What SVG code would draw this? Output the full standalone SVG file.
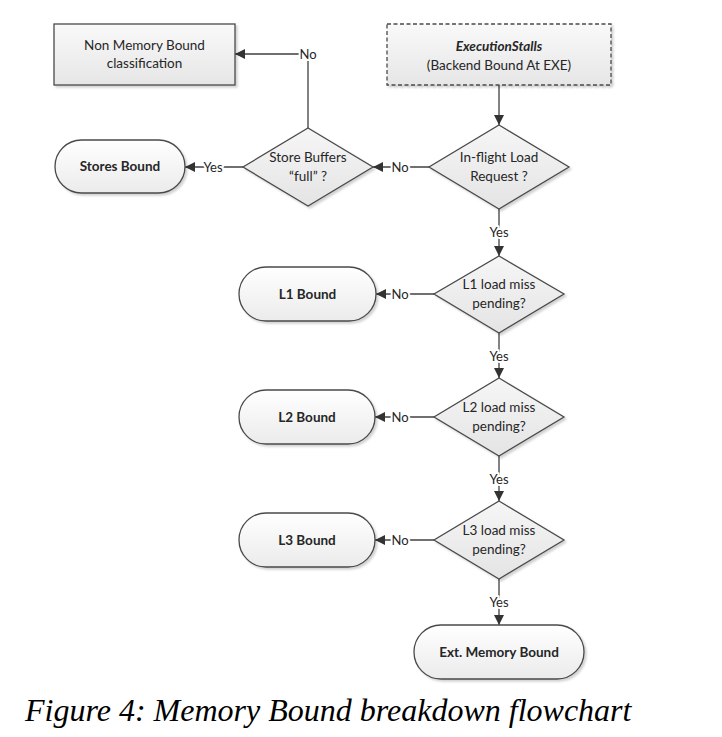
<svg xmlns="http://www.w3.org/2000/svg" width="722" height="737" viewBox="0 0 722 737">
  <style>
    .t { font-family: Lato, "Liberation Sans", sans-serif; font-size: 13.5px; fill: #262626; text-anchor: middle; }
    .b { font-weight: bold; }
    .bi { font-weight: bold; font-style: italic; }
    .lbl { font-family: Lato, "Liberation Sans", sans-serif; font-size: 13px; fill: #262626; text-anchor: middle; stroke: #ffffff; stroke-width: 4px; paint-order: stroke; stroke-linejoin: round; }
    .shape { stroke: #4a4a4a; stroke-width: 1.3; }
    .conn { fill: none; stroke: #404040; stroke-width: 1.3; }
    .cap { font-family: "Liberation Serif", "Times New Roman", serif; font-style: italic; font-size: 32px; fill: #000; }
  </style>
  <defs>
    <linearGradient id="gBox" x1="0" y1="0" x2="0" y2="1">
      <stop offset="0" stop-color="#f9f9f9"/>
      <stop offset="1" stop-color="#e6e6e6"/>
    </linearGradient>
    <linearGradient id="gPill" x1="0" y1="0" x2="0" y2="1">
      <stop offset="0" stop-color="#ffffff"/>
      <stop offset="1" stop-color="#ebebeb"/>
    </linearGradient>
    <linearGradient id="gDia" x1="0" y1="0" x2="0" y2="1">
      <stop offset="0" stop-color="#f6f6f6"/>
      <stop offset="1" stop-color="#e4e4e4"/>
    </linearGradient>
    <filter id="sh" x="-10%" y="-10%" width="130%" height="140%">
      <feDropShadow dx="2" dy="2" stdDeviation="1.2" flood-color="#000" flood-opacity="0.18"/>
    </filter>
    <marker id="arr" viewBox="0 0 10 10" refX="10" refY="5" markerWidth="10" markerHeight="10" markerUnits="userSpaceOnUse" orient="auto">
      <path d="M0,0 L10,5 L0,10 Z" fill="#333333"/>
    </marker>
  </defs>

  <rect width="722" height="737" fill="#ffffff"/>

  <g id="connectors">
    <!-- ExecutionStalls -> In-flight -->
    <path class="conn" d="M499,85 V125" marker-end="url(#arr)"/>
    <!-- In-flight -> Store Buffers (No) -->
    <path class="conn" d="M429,167 H373" marker-end="url(#arr)"/>
    <!-- Store Buffers -> Non Memory (No) -->
    <path class="conn" d="M308,128 V54 H235" marker-end="url(#arr)"/>
    <!-- Store Buffers -> Stores Bound (Yes) -->
    <path class="conn" d="M243,167 H185" marker-end="url(#arr)"/>
    <!-- In-flight -> L1 (Yes) -->
    <path class="conn" d="M499,209 V256" marker-end="url(#arr)"/>
    <!-- L1 -> L1 Bound (No) -->
    <path class="conn" d="M434,294 H376" marker-end="url(#arr)"/>
    <!-- L1 -> L2 (Yes) -->
    <path class="conn" d="M499,333 V378" marker-end="url(#arr)"/>
    <!-- L2 -> L2 Bound (No) -->
    <path class="conn" d="M434,417 H375" marker-end="url(#arr)"/>
    <!-- L2 -> L3 (Yes) -->
    <path class="conn" d="M499,456 V501" marker-end="url(#arr)"/>
    <!-- L3 -> L3 Bound (No) -->
    <path class="conn" d="M434,540 H375" marker-end="url(#arr)"/>
    <!-- L3 -> Ext (Yes) -->
    <path class="conn" d="M499,579 V625" marker-end="url(#arr)"/>

    <text class="lbl" x="308" y="58.5">No</text>
    <text class="lbl" x="400" y="171.5">No</text>
    <text class="lbl" x="213" y="171.5">Yes</text>
    <text class="lbl" x="499" y="237">Yes</text>
    <text class="lbl" x="400" y="298.5">No</text>
    <text class="lbl" x="499" y="360.5">Yes</text>
    <text class="lbl" x="400" y="421.5">No</text>
    <text class="lbl" x="499" y="483.5">Yes</text>
    <text class="lbl" x="400" y="544.5">No</text>
    <text class="lbl" x="499" y="606.5">Yes</text>
  </g>

  <g id="non-memory-bound">
    <rect class="shape" x="54" y="24" width="181" height="61" fill="url(#gBox)" filter="url(#sh)"/>
    <text class="t" x="144.5" y="50">Non Memory Bound</text>
    <text class="t" x="144.5" y="68">classification</text>
  </g>

  <g id="execution-stalls">
    <rect class="shape" x="387" y="24" width="224" height="61" fill="url(#gBox)" stroke-dasharray="4,2.5" filter="url(#sh)"/>
    <text class="t bi" x="499" y="51">ExecutionStalls</text>
    <text class="t" x="499" y="70">(Backend Bound At EXE)</text>
  </g>

  <g id="inflight-load">
    <polygon class="shape" points="499,125 569,167 499,209 429,167" fill="url(#gDia)" filter="url(#sh)"/>
    <text class="t" x="499" y="161.5">In-flight Load</text>
    <text class="t" x="499" y="180.5">Request ?</text>
  </g>

  <g id="store-buffers">
    <polygon class="shape" points="308,128 373,167 308,206 243,167" fill="url(#gDia)" filter="url(#sh)"/>
    <text class="t" x="308" y="162">Store Buffers</text>
    <text class="t" x="308" y="181">“full” ?</text>
  </g>

  <g id="stores-bound">
    <rect class="shape" x="55" y="140" width="130" height="53" rx="26.5" fill="url(#gPill)" filter="url(#sh)"/>
    <text class="t b" x="120" y="171">Stores Bound</text>
  </g>

  <g id="l1-miss">
    <polygon class="shape" points="499,256 564,294 499,333 434,294" fill="url(#gDia)" filter="url(#sh)"/>
    <text class="t" x="499" y="289">L1 load miss</text>
    <text class="t" x="499" y="308">pending?</text>
  </g>

  <g id="l1-bound">
    <rect class="shape" x="239" y="267" width="137" height="54" rx="27" fill="url(#gPill)" filter="url(#sh)"/>
    <text class="t b" x="307.5" y="299">L1 Bound</text>
  </g>

  <g id="l2-miss">
    <polygon class="shape" points="499,378 564,417 499,456 434,417" fill="url(#gDia)" filter="url(#sh)"/>
    <text class="t" x="499" y="412">L2 load miss</text>
    <text class="t" x="499" y="431">pending?</text>
  </g>

  <g id="l2-bound">
    <rect class="shape" x="239" y="390" width="136" height="54" rx="27" fill="url(#gPill)" filter="url(#sh)"/>
    <text class="t b" x="307" y="422">L2 Bound</text>
  </g>

  <g id="l3-miss">
    <polygon class="shape" points="499,501 564,540 499,579 434,540" fill="url(#gDia)" filter="url(#sh)"/>
    <text class="t" x="499" y="535">L3 load miss</text>
    <text class="t" x="499" y="554">pending?</text>
  </g>

  <g id="l3-bound">
    <rect class="shape" x="239" y="513" width="136" height="54" rx="27" fill="url(#gPill)" filter="url(#sh)"/>
    <text class="t b" x="307" y="545">L3 Bound</text>
  </g>

  <g id="ext-memory-bound">
    <rect class="shape" x="414" y="625" width="170" height="54" rx="27" fill="url(#gPill)" filter="url(#sh)"/>
    <text class="t b" x="499" y="657">Ext. Memory Bound</text>
  </g>

  <text class="cap" x="25" y="721">Figure 4: Memory Bound breakdown flowchart</text>
</svg>
